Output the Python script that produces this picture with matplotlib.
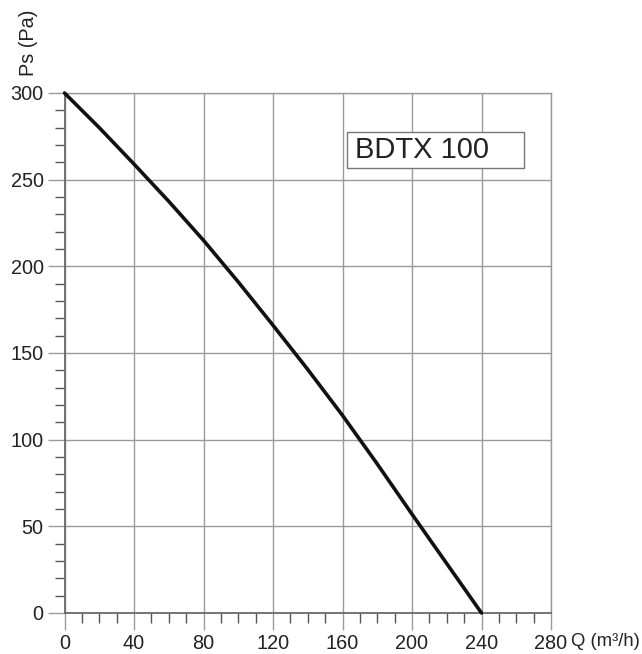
import matplotlib
matplotlib.use("Agg")
import matplotlib.pyplot as plt
from matplotlib.ticker import MultipleLocator
from matplotlib.patches import Rectangle

plt.rcParams['font.family'] = ['Liberation Sans', 'DejaVu Sans']

# Data
q_values = [0, 20, 40, 60, 80, 100, 120, 140, 160, 180, 200, 220, 240]
ps_values = [300, 280, 259, 237.5, 215, 191, 166, 140.5, 114, 86, 57, 28.5, 0]
x_ticks = [0, 40, 80, 120, 160, 200, 240, 280]
y_ticks = [0, 50, 100, 150, 200, 250, 300]
model_label = "BDTX 100"

W, H = 642, 654
X0, X1, Y0, Y1 = 64.5, 551, 613, 93
fig = plt.figure(figsize=(W / 100, H / 100), dpi=100)
ax = fig.add_axes([X0 / W, 1 - Y0 / H, (X1 - X0) / W, (Y0 - Y1) / H])


def ax_x(px):
    return (px - X0) / (X1 - X0)


def ax_y(py):
    return (Y0 - py) / (Y0 - Y1)


ax.set_xlim(0, 280)
ax.set_ylim(0, 300)
ax.set_xticks(x_ticks)
ax.set_yticks(y_ticks)
ax.xaxis.set_minor_locator(MultipleLocator(10))
ax.yaxis.set_minor_locator(MultipleLocator(10))

grid_c = '#9a9a9a'
ax.grid(True, which='major', color=grid_c, linewidth=1.0)
for s in ['top', 'right']:
    ax.spines[s].set_color(grid_c)
    ax.spines[s].set_linewidth(1.0)
for s in ['left', 'bottom']:
    ax.spines[s].set_color('#6a6a6a')
    ax.spines[s].set_linewidth(1.3)

ax.tick_params(axis='both', which='major', length=12.5, width=1.0, color=grid_c,
               direction='out', labelsize=14.3, labelcolor='#222222', pad=2.5)
ax.tick_params(axis='both', which='minor', length=7, width=1.0, color='#555555',
               direction='out')

ax.plot(q_values, ps_values, color='#111111', linewidth=2.6, solid_capstyle='round',
        zorder=5, clip_on=False)

# Label box
ax.add_patch(Rectangle((ax_x(347), ax_y(168)), ax_x(524) - ax_x(347), ax_y(132) - ax_y(168),
                       transform=ax.transAxes, facecolor='white', edgecolor='#777777',
                       linewidth=1.0, zorder=6))
ax.text(ax_x(355), ax_y(150), model_label, transform=ax.transAxes, fontsize=21,
        color='#222222', va='center', ha='left', zorder=7)

fig.text(571 / W, 1 - 642 / H, "Q (m³/h)", fontsize=13.3, color='#222222',
         ha='left', va='center')
fig.text(28 / W, 1 - 43 / H, "Ps (Pa)", fontsize=14.3, color='#222222',
         rotation=90, ha='center', va='center')

fig.savefig("out.png", dpi=100, facecolor='white')
